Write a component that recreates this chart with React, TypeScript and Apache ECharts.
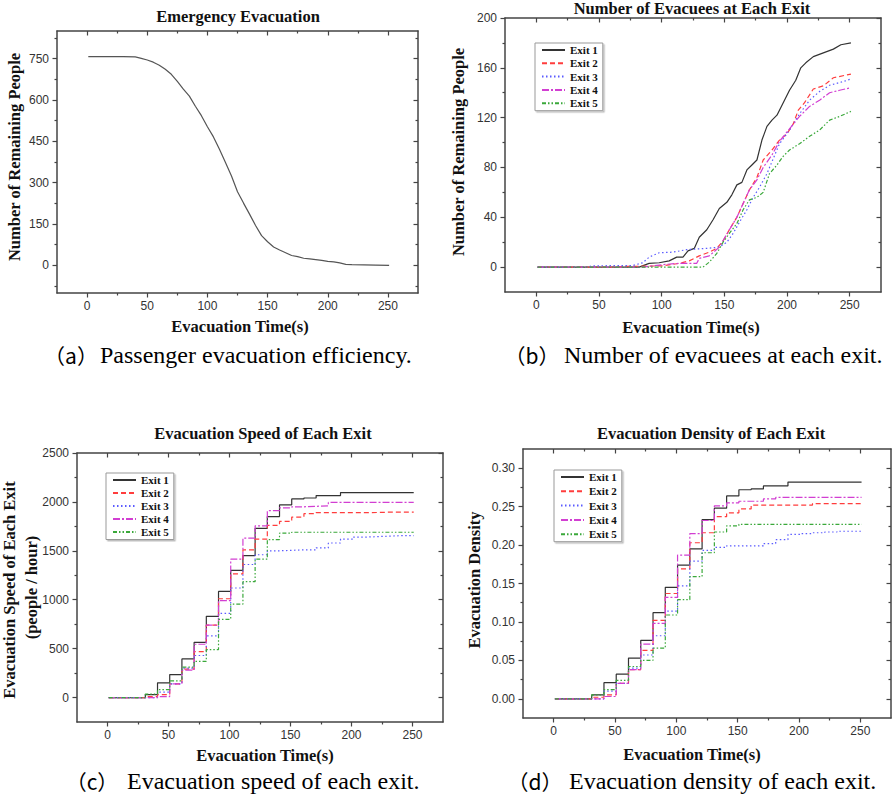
import React, { useEffect, useRef } from 'react';
import * as echarts from 'echarts';

// ---------- Panel (a): remaining people ----------
const timeA = [1, 10, 20, 30, 40, 45, 50, 55, 60, 65, 70, 75, 80, 85, 90, 95, 100, 105, 110, 115, 120, 125, 130, 135, 140, 145, 150, 155, 160, 165, 170, 175, 180, 185, 190, 195, 200, 205, 210, 215, 220, 230, 240, 251];
const remainingA = [757, 757, 757, 757, 756, 751, 745, 737, 726, 711, 693, 667, 639, 614, 577, 543, 503, 466, 421, 373, 324, 267, 226, 186, 145, 108, 86, 67, 56, 46, 36, 32, 26, 24, 21, 18, 15, 13, 9, 4, 3, 2, 1, 0];

// ---------- Panel (b): number of evacuees at each exit ----------
const evacueesExit1 = [[1, 0], [82, 0], [90, 3], [98, 3.5], [106, 5], [112, 8], [117, 8], [121, 13], [126, 15], [130, 24], [136, 30], [141, 38], [146, 47], [152, 52], [156, 58], [160, 66], [164, 68], [168, 78], [172, 82], [176, 86], [180, 102], [184, 113], [188, 118], [192, 122], [197, 132], [202, 142], [207, 150], [211, 160], [215, 164], [221, 169], [229, 172], [237, 175], [243, 178.5], [251, 180]];
const evacueesExit2 = [[1, 0], [60, 0], [70, 0.5], [101, 1], [114, 3], [122, 5], [130, 9], [138, 12], [144, 15], [149, 21], [154, 30], [160, 40], [165, 51], [170, 62], [176, 72], [181, 86], [188, 94], [194, 102], [200, 107], [205, 115], [209, 126], [214, 132], [221, 143], [229, 145.5], [237, 152], [251, 155]];
const evacueesExit3 = [[1, 0], [40, 0], [45, 1], [77, 1.3], [85, 3.5], [90, 8], [98, 11.5], [109, 12], [120, 14], [136, 15], [146, 16], [152, 20], [157, 27], [162, 36], [168, 46], [173, 56], [178, 64], [184, 75], [189, 87], [194, 99], [202, 110], [210, 123], [218, 134], [226, 141], [234, 146], [245, 149], [251, 151]];
const evacueesExit4 = [[1, 0], [85, 0], [93, 1], [101, 2], [114, 3], [128, 3], [130, 7], [138, 9], [146, 16], [154, 30], [160, 40], [165, 51], [170, 62], [176, 70], [181, 80], [188, 90], [194, 101], [202, 111], [210, 121], [218, 129], [226, 134], [234, 140], [242, 142], [251, 144]];
const evacueesExit5 = [[1, 0], [133, 0], [138, 4], [144, 11], [149, 20], [154, 27], [160, 35], [165, 46], [170, 54], [176, 56], [181, 60], [186, 75], [192, 82], [197, 89], [202, 94], [210, 99], [218, 105], [226, 110], [234, 118], [242, 121], [251, 125]];

// ---------- Panels (c) and (d): step series ----------
const stepTimes = [1, 31, 41, 51, 61, 71, 81, 91, 101, 111, 121, 131, 141, 151, 161, 171, 181, 191, 201, 211, 221, 231, 241, 251];

const speedExit1 = [0, 30, 150, 235, 395, 565, 830, 1085, 1300, 1450, 1730, 1850, 1970, 2030, 2040, 2065, 2065, 2095, 2095, 2095, 2095, 2095, 2095, 2095];
const speedExit2 = [0, 10, 30, 140, 290, 470, 740, 1010, 1265, 1510, 1620, 1760, 1800, 1845, 1880, 1890, 1890, 1890, 1890, 1892, 1895, 1895, 1895, 1895];
const speedExit3 = [0, 0, 55, 140, 300, 430, 630, 860, 1120, 1360, 1460, 1500, 1505, 1510, 1510, 1530, 1580, 1620, 1640, 1645, 1650, 1655, 1655, 1655];
const speedExit4 = [0, 0, 10, 140, 280, 545, 740, 990, 1415, 1630, 1755, 1910, 1940, 1950, 1955, 1960, 1995, 1995, 1995, 1995, 1995, 1995, 1995, 1995];
const speedExit5 = [0, 35, 80, 170, 310, 370, 490, 800, 955, 1185, 1415, 1615, 1680, 1690, 1690, 1690, 1690, 1690, 1690, 1690, 1690, 1690, 1690, 1690];

const densityExit1 = [0, 0.005, 0.021, 0.032, 0.053, 0.076, 0.112, 0.145, 0.174, 0.195, 0.233, 0.248, 0.264, 0.272, 0.273, 0.277, 0.277, 0.282, 0.282, 0.282, 0.282, 0.282, 0.282, 0.282];
const densityExit2 = [0, 0.002, 0.005, 0.020, 0.038, 0.063, 0.102, 0.137, 0.169, 0.203, 0.216, 0.237, 0.242, 0.247, 0.252, 0.252, 0.252, 0.252, 0.252, 0.254, 0.254, 0.254, 0.254, 0.254];
const densityExit3 = [0, 0, 0.010, 0.020, 0.040, 0.057, 0.082, 0.114, 0.147, 0.179, 0.193, 0.197, 0.199, 0.199, 0.199, 0.202, 0.207, 0.214, 0.215, 0.216, 0.217, 0.218, 0.218, 0.218];
const densityExit4 = [0, 0, 0.003, 0.020, 0.038, 0.071, 0.098, 0.132, 0.187, 0.215, 0.232, 0.251, 0.255, 0.257, 0.257, 0.260, 0.262, 0.262, 0.262, 0.262, 0.262, 0.262, 0.262, 0.262];
const densityExit5 = [0, 0.005, 0.012, 0.024, 0.042, 0.050, 0.066, 0.109, 0.129, 0.159, 0.190, 0.217, 0.225, 0.227, 0.227, 0.227, 0.227, 0.227, 0.227, 0.227, 0.227, 0.227, 0.227, 0.227];

const exitNames = ['Exit 1', 'Exit 2', 'Exit 3', 'Exit 4', 'Exit 5'];

// ---------- Tick values ----------
const xMajorTicks = [0, 50, 100, 150, 200, 250];
const xMinorTicks = [25, 75, 125, 175, 225];
const yMajorA = [0, 150, 300, 450, 600, 750];
const yMinorA = [-75, 75, 225, 375, 525, 675, 825];
const yMajorB = [0, 40, 80, 120, 160, 200];
const yMinorB = [20, 60, 100, 140, 180];
const yMajorC = [0, 500, 1000, 1500, 2000, 2500];
const yMinorC = [250, 750, 1250, 1750, 2250];
const yMajorD = [0, 0.05, 0.1, 0.15, 0.2, 0.25, 0.3];
const yMinorD = [0.025, 0.075, 0.125, 0.175, 0.225, 0.275];

// ---------- Captions ----------
const captionPrefixes = ['（a）', '（b）', '（c）', '（d）'];
const captionTexts = [
  'Passenger evacuation efficiency.',
  'Number of evacuees at each exit.',
  'Evacuation speed of each exit.',
  'Evacuation density of each exit.',
];

const BOLD = "'Liberation Serif', 'Times New Roman', serif";
const SERIF = "'Liberation Serif', 'DejaVu Serif', serif";
const CJK = "'Noto Sans CJK SC', sans-serif";
const SANS = "'Liberation Sans', Arial, sans-serif";
const AXIS_COLOR = '#444';

const exitStyles = [
  { color: '#333333', type: 'solid' as any },
  { color: '#ff3d3d', type: [5, 3] },
  { color: '#5b5bff', type: [1.5, 2.5] },
  { color: '#d23fd2', type: [7, 2, 2, 2] },
  { color: '#3aa83a', type: [4, 2, 1.5, 2, 1.5, 2] },
];

function axisSet(dim: 'x' | 'y', gridIndex: number, min: number, max: number, majors: number[], minors: number[], fmt: (v: number) => string) {
  const lineStyle = { color: AXIS_COLOR, width: 1.5 };
  const tickStyle = { color: AXIS_COLOR, width: 1.2 };
  const mainPos = dim === 'x' ? 'bottom' : 'left';
  const otherPos = dim === 'x' ? 'top' : 'right';
  const base = { type: 'value', gridIndex, min, max, splitLine: { show: false } };
  return [
    {
      ...base,
      position: mainPos,
      axisLine: { show: true, onZero: false, lineStyle },
      axisTick: { show: true, length: 4.5, inside: false, customValues: majors, lineStyle: tickStyle },
      axisLabel: {
        show: true,
        customValues: majors,
        formatter: fmt,
        margin: dim === 'x' ? 7 : 8,
        fontFamily: SANS,
        fontSize: 12,
        color: '#333',
      },
    },
    {
      ...base,
      position: mainPos,
      axisLine: { show: false, onZero: false },
      axisTick: { show: true, length: 2.5, inside: false, customValues: minors, lineStyle: tickStyle },
      axisLabel: { show: false },
    },
    {
      ...base,
      position: otherPos,
      axisLine: { show: true, onZero: false, lineStyle },
      axisTick: { show: true, length: 4.5, inside: true, customValues: majors, lineStyle: tickStyle },
      axisLabel: { show: false },
    },
    {
      ...base,
      position: otherPos,
      axisLine: { show: false, onZero: false },
      axisTick: { show: true, length: 2.5, inside: true, customValues: minors, lineStyle: tickStyle },
      axisLabel: { show: false },
    },
  ];
}

function text(x: number, y: number, t: string, opts: any = {}) {
  const style: any = {
    text: t,
    fontFamily: opts.fontFamily || BOLD,
    fontSize: opts.fontSize || 16.5,
    fill: opts.fill || '#111',
    align: opts.align || 'center',
    verticalAlign: 'middle',
  };
  if (!opts.regular) style.fontWeight = 'bold';
  return {
    type: 'text',
    x,
    y,
    rotation: opts.rotation || 0,
    style,
  };
}

export default function App() {
  const ref = useRef<HTMLDivElement>(null);

  useEffect(() => {
    if (!ref.current) return;
    const chart = echarts.init(ref.current, undefined, { renderer: 'svg' });

    const xFmt = (v: number) => String(v);
    const xAxes = [0, 1, 2, 3].flatMap((g) => axisSet('x', g, -25, 275, xMajorTicks, xMinorTicks, xFmt));
    const yAxes = [
      ...axisSet('y', 0, -100, 850, yMajorA, yMinorA, (v) => String(v)),
      ...axisSet('y', 1, -20, 200, yMajorB, yMinorB, (v) => String(v)),
      ...axisSet('y', 2, -250, 2500, yMajorC, yMinorC, (v) => String(v)),
      ...axisSet('y', 3, -0.025, 0.325, yMajorD, yMinorD, (v) => v.toFixed(2)),
    ];

    const evacuees = [evacueesExit1, evacueesExit2, evacueesExit3, evacueesExit4, evacueesExit5];
    const speeds = [speedExit1, speedExit2, speedExit3, speedExit4, speedExit5];
    const densities = [densityExit1, densityExit2, densityExit3, densityExit4, densityExit5];

    const lineSeries = (name: string, g: number, data: any[], i: number, step?: string) => ({
      type: 'line',
      name,
      xAxisIndex: g * 4,
      yAxisIndex: g * 4,
      data,
      step: step || false,
      symbol: 'none',
      showSymbol: false,
      lineStyle: { color: exitStyles[i].color, type: exitStyles[i].type, width: 1.2 },
      itemStyle: { color: exitStyles[i].color },
      emphasis: { disabled: true },
      z: 2 + i,
    });

    const series: any[] = [
      {
        type: 'line',
        name: 'Remaining',
        xAxisIndex: 0,
        yAxisIndex: 0,
        data: timeA.map((t, i) => [t, remainingA[i]]),
        symbol: 'none',
        lineStyle: { color: '#555', width: 1.2 },
        emphasis: { disabled: true },
      },
      ...evacuees.map((d, i) => lineSeries(exitNames[i], 1, d, i)),
      ...speeds.map((d, i) => lineSeries(exitNames[i], 2, stepTimes.map((t, k) => [t, d[k]]), i, 'end')),
      ...densities.map((d, i) => lineSeries(exitNames[i], 3, stepTimes.map((t, k) => [t, d[k]]), i, 'end')),
    ];

    const legendBase = {
      orient: 'vertical',
      data: exitNames,
      selectedMode: false,
      itemWidth: 23,
      itemHeight: 10,
      padding: [1.5, 5, 2, 6],
      borderColor: '#999',
      borderWidth: 1,
      backgroundColor: '#fff',
      shadowColor: 'rgba(0,0,0,0.25)',
      shadowOffsetX: 1.5,
      shadowOffsetY: 1.5,
      shadowBlur: 1,
      itemStyle: { color: 'rgba(0,0,0,0)', borderWidth: 0, opacity: 0 },
      textStyle: { fontFamily: BOLD, fontWeight: 'bold', fontSize: 11, color: '#111' },
    };

    const prefixX = [71, 532, 92, 535];
    const mainX = [100, 564, 127, 569];
    const capY = [355, 355, 781, 781];
    const captionGraphics = captionTexts.flatMap((t, i) => [
      text(prefixX[i], capY[i], captionPrefixes[i], { fontFamily: CJK, regular: true, fontSize: 21, fill: '#000' }),
      text(mainX[i], capY[i], t, { fontFamily: SERIF, regular: true, fontSize: 24, align: 'left', fill: '#000' }),
    ]);

    chart.setOption({
      animation: false,
      backgroundColor: '#fff',
      grid: [
        { left: 57, top: 31, width: 361, height: 262 },
        { left: 505, top: 18, width: 376, height: 274 },
        { left: 77, top: 453, width: 366, height: 269 },
        { left: 523, top: 449, width: 368, height: 269 },
      ],
      xAxis: xAxes,
      yAxis: yAxes,
      legend: [
        { ...legendBase, left: 535, top: 43, itemGap: 2.3 },
        { ...legendBase, left: 106, top: 473, itemGap: 2 },
        { ...legendBase, left: 554, top: 470, itemGap: 3.3 },
      ],
      series,
      graphic: [
        text(238, 16, 'Emergency Evacuation'),
        text(692, 8.5, 'Number of Evacuees at Each Exit'),
        text(263, 433, 'Evacuation Speed of Each Exit'),
        text(711, 433, 'Evacuation Density of Each Exit'),
        text(240, 326, 'Evacuation Time(s)'),
        text(691, 327.5, 'Evacuation Time(s)'),
        text(265, 755, 'Evacuation Time(s)'),
        text(692, 754, 'Evacuation Time(s)'),
        text(14, 157, 'Number of Remaining People', { rotation: Math.PI / 2 }),
        text(458.5, 152, 'Number of Remaining People', { rotation: Math.PI / 2 }),
        text(9, 590, 'Evacuation Speed of Each Exit', { rotation: Math.PI / 2 }),
        text(31.5, 587.5, '(people / hour)', { rotation: Math.PI / 2 }),
        text(474.5, 580, 'Evacuation Density', { rotation: Math.PI / 2 }),
        ...captionGraphics,
      ],
    });

    return () => chart.dispose();
  }, []);

  return (
    <div
      ref={ref}
      style={{ position: 'fixed', left: 0, top: 0, width: 892, height: 797, background: '#fff' }}
    />
  );
}
